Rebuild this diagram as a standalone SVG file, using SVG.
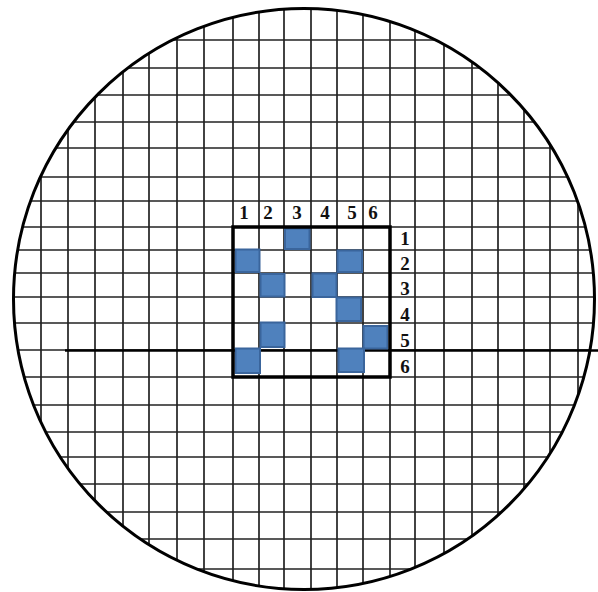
<svg xmlns="http://www.w3.org/2000/svg" width="598" height="592" viewBox="0 0 598 592">
  <style>
    .g { stroke: #222; stroke-width: 1.7; fill: none; }
    .cell { fill: #4f81bd; stroke: #3a659c; stroke-width: 2; }
    .lbl { font-family: "Liberation Serif", "Times New Roman", serif; font-weight: bold; font-size: 19px; fill: #111; text-anchor: middle; }
  </style>
  <defs>
    <clipPath id="disk">
      <circle cx="304" cy="299" r="290"/>
    </clipPath>
  </defs>
  <rect width="598" height="592" fill="#fff"/>
  <g id="grid" clip-path="url(#disk)">
    <g class="g">
      <line x1="41" y1="0" x2="41" y2="592"/>
      <line x1="68" y1="0" x2="68" y2="592"/>
      <line x1="95" y1="0" x2="95" y2="592"/>
      <line x1="123" y1="0" x2="123" y2="592"/>
      <line x1="149" y1="0" x2="149" y2="592"/>
      <line x1="177" y1="0" x2="177" y2="592"/>
      <line x1="204" y1="0" x2="204" y2="592"/>
      <line x1="233" y1="0" x2="233" y2="592"/>
      <line x1="259" y1="0" x2="259" y2="592"/>
      <line x1="284" y1="0" x2="284" y2="592"/>
      <line x1="311" y1="0" x2="311" y2="592"/>
      <line x1="337" y1="0" x2="337" y2="592"/>
      <line x1="363" y1="0" x2="363" y2="592"/>
      <line x1="390" y1="0" x2="390" y2="592"/>
      <line x1="415" y1="0" x2="415" y2="592"/>
      <line x1="444" y1="0" x2="444" y2="592"/>
      <line x1="472" y1="0" x2="472" y2="592"/>
      <line x1="498" y1="0" x2="498" y2="592"/>
      <line x1="524" y1="0" x2="524" y2="592"/>
      <line x1="550" y1="0" x2="550" y2="592"/>
      <line x1="578" y1="0" x2="578" y2="592"/>
      <line x1="0" y1="40" x2="598" y2="40"/>
      <line x1="0" y1="68" x2="598" y2="68"/>
      <line x1="0" y1="95" x2="598" y2="95"/>
      <line x1="0" y1="122" x2="598" y2="122"/>
      <line x1="0" y1="148" x2="598" y2="148"/>
      <line x1="0" y1="177" x2="598" y2="177"/>
      <line x1="0" y1="201" x2="598" y2="201"/>
      <line x1="0" y1="227" x2="598" y2="227"/>
      <line x1="0" y1="250" x2="598" y2="250"/>
      <line x1="0" y1="273" x2="598" y2="273"/>
      <line x1="0" y1="297" x2="598" y2="297"/>
      <line x1="0" y1="323" x2="598" y2="323"/>
      <line x1="0" y1="350" x2="598" y2="350"/>
      <line x1="0" y1="377" x2="598" y2="377"/>
      <line x1="0" y1="405" x2="598" y2="405"/>
      <line x1="0" y1="432" x2="598" y2="432"/>
      <line x1="0" y1="457" x2="598" y2="457"/>
      <line x1="0" y1="484" x2="598" y2="484"/>
      <line x1="0" y1="512" x2="598" y2="512"/>
      <line x1="0" y1="539" x2="598" y2="539"/>
      <line x1="0" y1="569" x2="598" y2="569"/>
    </g>
  </g>
  <g id="axis-line">
    <line x1="65" y1="350.5" x2="598" y2="350.5" stroke="#000" stroke-width="2.3"/>
  </g>
  <g id="outline">
    <circle cx="304" cy="299" r="290.5" fill="none" stroke="#000" stroke-width="3"/>
  </g>
  <g id="cells">
    <rect class="cell" x="285" y="228.5" width="24.5" height="20.5"/>
    <rect class="cell" x="235.5" y="249.5" width="24" height="22.5"/>
    <rect class="cell" x="337.5" y="250.5" width="24.5" height="21.5"/>
    <rect class="cell" x="260.5" y="274" width="24" height="22.5"/>
    <rect class="cell" x="312.5" y="273.5" width="24" height="23.5"/>
    <rect class="cell" x="336.5" y="297.5" width="24.5" height="23.5"/>
    <rect class="cell" x="260.5" y="322.5" width="24" height="24.5"/>
    <rect class="cell" x="363.5" y="326" width="24" height="22.5"/>
    <rect class="cell" x="235.5" y="348.5" width="24.5" height="24.5"/>
    <rect class="cell" x="338.5" y="348.5" width="25.5" height="23.5"/>
  </g>
  <g id="frame">
    <rect x="233" y="227" width="157" height="150" fill="none" stroke="#000" stroke-width="3.5"/>
  </g>
  <g id="col-labels">
    <text class="lbl" x="244" y="219">1</text>
    <text class="lbl" x="268" y="219">2</text>
    <text class="lbl" x="297" y="219">3</text>
    <text class="lbl" x="325" y="219">4</text>
    <text class="lbl" x="352" y="219">5</text>
    <text class="lbl" x="373" y="219">6</text>
  </g>
  <g id="row-labels">
    <text class="lbl" x="405" y="245">1</text>
    <text class="lbl" x="405" y="270">2</text>
    <text class="lbl" x="405" y="295">3</text>
    <text class="lbl" x="405" y="321">4</text>
    <text class="lbl" x="405" y="347">5</text>
    <text class="lbl" x="405" y="373">6</text>
  </g>
</svg>
